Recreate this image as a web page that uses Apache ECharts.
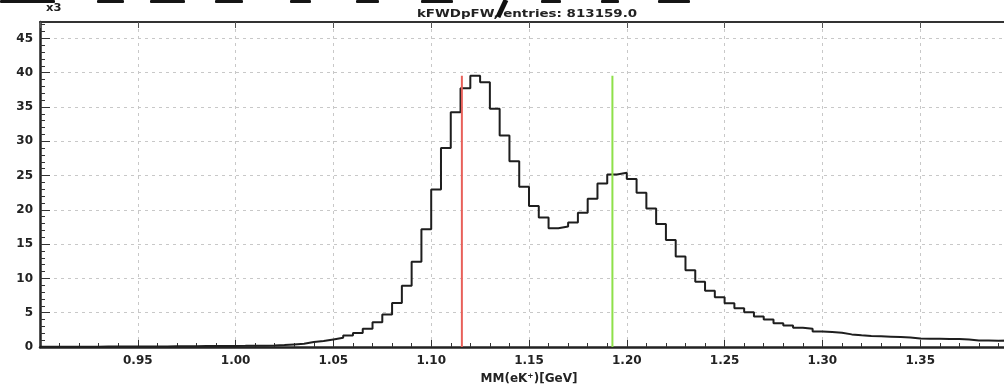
<!DOCTYPE html>
<html>
<head>
<meta charset="utf-8">
<script src="https://cdn.jsdelivr.net/npm/echarts@6/dist/echarts.min.js"></script>
<style>
  html, body { margin: 0; padding: 0; background: #ffffff; overflow: hidden; }
  /* the frame runs on past the right edge of the page */
  #chart { width: 1018px; height: 390px; }
</style>
</head>
<body>
<div id="chart"></div>
<script>
// Histogram kFWDpFW: missing mass MM(eK+), 100 bins from 0.90 to 1.40 GeV
const histName = 'kFWDpFW';
const entries = '813159.0';
const binLow = 0.90;
const binWidth = 0.005;
// bin contents in units of 10^3
const counts = [
  0.03, 0.03, 0.04, 0.04, 0.05, 0.05, 0.06, 0.06, 0.07, 0.07,
  0.08, 0.09, 0.09, 0.10, 0.11, 0.12, 0.13, 0.14, 0.15, 0.16,
  0.17, 0.19, 0.20, 0.22, 0.28, 0.38, 0.48, 0.72, 0.87, 1.11,
  1.35, 1.69, 2.03, 2.66, 3.62, 4.73, 6.43, 8.94, 12.43, 17.17,
  22.98, 29.03, 34.25, 37.73, 39.57, 38.60, 34.73, 30.86, 27.09, 23.37,
  20.55, 18.87, 17.31, 17.56, 18.14, 19.59, 21.62, 23.85, 25.15, 25.40,
  24.50, 22.50, 20.20, 17.95, 15.60, 13.20, 11.20, 9.50, 8.20, 7.25,
  6.38, 5.66, 5.08, 4.44, 4.00, 3.48, 3.14, 2.80, 2.65, 2.27,
  2.20, 2.07, 1.84, 1.70, 1.60, 1.55, 1.50, 1.45, 1.38, 1.25,
  1.20, 1.20, 1.15, 1.15, 1.10, 0.96, 0.93, 0.90, 0.95, 0.90
];
// reference masses (GeV): Lambda and Sigma0
const lambdaMass = 1.115683;
const sigma0Mass = 1.192642;
const xTickLabels = ['0.95', '1.00', '1.05', '1.10', '1.15', '1.20', '1.25', '1.30', '1.35'];
const yTickLabels = ['0', '5', '10', '15', '20', '25', '30', '35', '40', '45'];

const xMin = binLow;
const xMax = binLow + counts.length * binWidth;
const yMax = 47.4;

// step outline: one point per lower bin edge, closed at the upper edge
const stepData = counts.map((v, i) => [+(binLow + i * binWidth).toFixed(4), v]);
stepData.push([+xMax.toFixed(4), counts[counts.length - 1]]);
const peak = Math.max(...counts);

const labelFont = { fontFamily: 'DejaVu Sans', fontWeight: 'bold', fontSize: 12, color: '#222' };
const gridLine = { show: true, lineStyle: { color: '#c8c8c8', type: [3, 4], width: 1 } };

// lower edge of the slide heading that sits above the plot, cut by the page top
const headingBits = [[0, 55], [97, 124], [150, 185], [215, 243], [290, 311], [356, 379], [421, 453], [541, 561], [601, 619], [658, 690]];
const headingGraphics = headingBits.map(([a, b]) => ({
  type: 'rect', shape: { x: a, y: 0, width: b - a, height: 3, r: 1 }, style: { fill: '#151515' }, z: 10
}));
headingGraphics.push({
  type: 'line', shape: { x1: 506, y1: 0, x2: 498, y2: 17 },
  style: { stroke: '#111', lineWidth: 5 }, z: 10
});

const chart = echarts.init(document.getElementById('chart'), null, { renderer: 'canvas' });
chart.setOption({
  animation: false,
  backgroundColor: '#ffffff',
  graphic: [
    { type: 'text', x: 527, y: 9, scaleX: 1.22,
      style: { text: histName + ', entries: ' + entries, font: 'bold 11px "DejaVu Sans"',
               fill: '#222', align: 'center', verticalAlign: 'top' }, z: 5 },
    { type: 'text', x: 46, y: 3, scaleX: 1.15,
      style: { text: 'x3', font: 'bold 10px "DejaVu Sans"', fill: '#222', verticalAlign: 'top' }, z: 5 }
  ].concat(headingGraphics),
  grid: { left: 40, top: 22, right: 0, bottom: 42, containLabel: false },
  xAxis: [
    {
      type: 'value', min: xMin, max: xMax, interval: 0.05, position: 'bottom',
      name: 'MM(eK\u207A)[GeV]', nameLocation: 'middle', nameGap: 26,
      nameTextStyle: { fontFamily: 'DejaVu Sans', fontWeight: 'bold', fontSize: 12, color: '#222' },
      axisLine: { show: true, onZero: false, lineStyle: { color: '#222', width: 2.5 } },
      axisTick: { show: true, inside: true, length: 7, lineStyle: { color: '#333', width: 1 } },
      minorTick: { show: true, splitNumber: 5, length: 4, lineStyle: { color: '#333', width: 1 } },
      axisLabel: Object.assign({ margin: 8, showMinLabel: false, showMaxLabel: false,
        formatter: v => { const s = v.toFixed(2); return xTickLabels.includes(s) ? s : ''; } }, labelFont),
      splitLine: gridLine
    },
    {
      type: 'value', min: xMin, max: xMax, interval: 0.05, position: 'top',
      axisLine: { show: true, onZero: false, lineStyle: { color: '#333', width: 2 } },
      axisTick: { show: true, inside: true, length: 6, lineStyle: { color: '#555', width: 1 } },
      axisLabel: { show: false },
      splitLine: { show: false }
    }
  ],
  yAxis: {
    type: 'value', min: 0, max: yMax, interval: 5,
    axisLine: { show: true, onZero: false, lineStyle: { color: '#222', width: 2.5 } },
    axisTick: { show: true, inside: true, length: 10, lineStyle: { color: '#333', width: 1 } },
    minorTick: { show: true, splitNumber: 5, length: 5, lineStyle: { color: '#333', width: 1 } },
    axisLabel: Object.assign({ margin: 7, showMaxLabel: false,
      formatter: v => { const s = String(Math.round(v)); return (Math.abs(v - Math.round(v)) < 1e-6 && yTickLabels.includes(s)) ? s : ''; } }, labelFont),
    splitLine: gridLine
  },
  series: [
    {
      type: 'line', name: histName, data: stepData, step: 'end',
      showSymbol: false, symbol: 'none', clip: true,
      lineStyle: { color: '#1e1e1e', width: 2 }, z: 3
    },
    {
      type: 'line', data: [[lambdaMass, 0], [lambdaMass, peak]],
      showSymbol: false, symbol: 'none',
      lineStyle: { color: '#e8605a', width: 2 }, z: 4
    },
    {
      type: 'line', data: [[sigma0Mass, 0], [sigma0Mass, peak]],
      showSymbol: false, symbol: 'none',
      lineStyle: { color: '#8ee04a', width: 2 }, z: 4
    }
  ]
});
</script>
</body>
</html>
